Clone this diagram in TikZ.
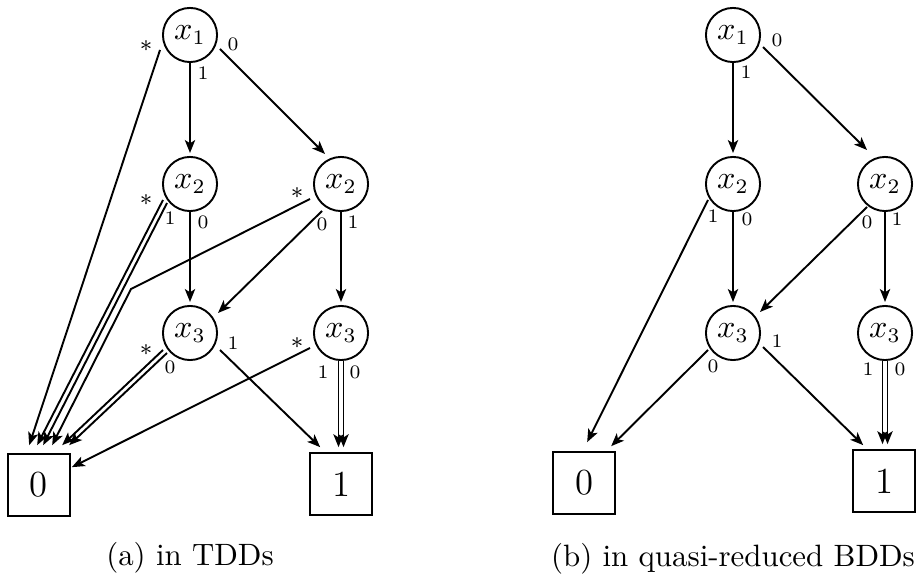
\documentclass[tikz,border=0pt]{standalone}
\usetikzlibrary{arrows.meta,calc}
\begin{document}
\begin{tikzpicture}[x=0.34pt,y=-0.34pt,
  var/.style={circle,draw,line width=0.65pt,minimum size=18.4pt,inner sep=0pt,
    font=\fontsize{10.5}{12}\selectfont},
  term/.style={rectangle,draw,line width=0.65pt,minimum size=21pt,inner sep=0pt,
    font=\fontsize{12.5}{14}\selectfont},
  lab/.style={font=\fontsize{6.5}{7}\selectfont,inner sep=0pt},
  star/.style={font=\fontsize{8}{8}\selectfont,inner sep=0pt},
  arc/.style={line width=0.65pt,-{Stealth[length=4.4pt,width=3.5pt,inset=1.1pt]}},
  captext/.style={font=\fontsize{10.5}{12.6}\selectfont,inner sep=0pt}]
\useasboundingbox (0,0) rectangle (916,578);

% ---------- (a) TDD ----------
\node[var] (x1a) at (190,35) {$x_1$};
\node[var] (x2La) at (190,184) {$x_2$};
\node[var] (x2Ra) at (341,184) {$x_2$};
\node[var] (x3La) at (190,333) {$x_3$};
\node[var] (x3Ra) at (341,333) {$x_3$};
\node[term] (b0a) at (39,485) {0};
\node[term] (b1a) at (341,484) {1};
\coordinate (benda) at (131,289);

\draw[arc] (x1a.south) -- ($(x2La)+(0,-31)$);
\draw[arc] ($(x1a)+(30,14)$) -- ($(x2Ra)+(-16,-30)$);
\draw[arc] ($(x1a)+(-30,15)$) -- ($(b0a.north west)+(22,-8)$);
\draw[arc] (x2La.south) -- ($(x3La)+(0,-31)$);
\draw[arc] ($(x2La)+(-27,16)$) -- ($(b0a.north west)+(30,-8)$);
\draw[arc] ($(x2La)+(-23,19)$) -- ($(b0a.north west)+(36,-8)$);
\draw[arc] ($(x2Ra)+(-31,15)$) -- (benda) -- ($(b0a.north west)+(45,-8)$);
\draw[arc] ($(x2Ra)+(-19,27)$) -- ($(x3La)+(28,-20)$);
\draw[arc] (x2Ra.south) -- ($(x3Ra)+(0,-31)$);
\draw[arc] ($(x3La)+(-27,17)$) -- ($(b0a.north west)+(55,-8)$);
\draw[arc] ($(x3La)+(-23,20)$) -- ($(b0a.north west)+(62,-8)$);
\draw[arc] ($(x3La)+(30,17)$) -- ($(b1a.north west)+(11,-5)$);
\draw[arc] ($(x3Ra)+(-31,15)$) -- ($(b0a.north east)+(1,14)$);
\draw[arc] ($(x3Ra.south)+(-2.5,0)$) -- ($(b1a.north)+(-2.5,-5)$);
\draw[arc] ($(x3Ra.south)+(2.5,0)$) -- ($(b1a.north)+(2.5,-5)$);

\node[star] at ($(x1a)+(-44,11)$) {$\ast$};
\node[lab] at ($(x1a)+(43,9)$) {0};
\node[lab] at ($(x1a)+(13,38)$) {1};
\node[star] at ($(x2La)+(-44,16)$) {$\ast$};
\node[lab] at ($(x2La)+(-20,34)$) {1};
\node[lab] at ($(x2La)+(13,38)$) {0};
\node[star] at ($(x2Ra)+(-44,9)$) {$\ast$};
\node[lab] at ($(x2Ra)+(-19,40)$) {0};
\node[lab] at ($(x2Ra)+(12,38)$) {1};
\node[star] at ($(x3La)+(-44,17)$) {$\ast$};
\node[lab] at ($(x3La)+(-20,34)$) {0};
\node[lab] at ($(x3La)+(43,10)$) {1};
\node[star] at ($(x3Ra)+(-44,10)$) {$\ast$};
\node[lab] at ($(x3Ra)+(-18,39)$) {1};
\node[lab] at ($(x3Ra)+(14,39)$) {0};

\node[captext] (capa) at (190,558) {(a) in TDDs};

% ---------- (b) quasi-reduced BDD ----------
\node[var] (x1b) at (733,35) {$x_1$};
\node[var] (x2Lb) at (733,184) {$x_2$};
\node[var] (x2Rb) at (885,184) {$x_2$};
\node[var] (x3Lb) at (733,333) {$x_3$};
\node[var] (x3Rb) at (885,333) {$x_3$};
\node[term] (b0b) at (584,483) {0};
\node[term] (b1b) at (884,481) {1};

\draw[arc] (x1b.south) -- ($(x2Lb)+(0,-31)$);
\draw[arc] ($(x1b)+(30,12)$) -- ($(x2Rb)+(-18,-34)$);
\draw[arc] ($(x2Lb)+(-25,16)$) -- ($(b0b.north west)+(35,-9)$);
\draw[arc] (x2Lb.south) -- ($(x3Lb)+(0,-31)$);
\draw[arc] ($(x2Rb)+(-18,23)$) -- ($(x3Lb)+(27,-21)$);
\draw[arc] (x2Rb.south) -- ($(x3Rb)+(0,-31)$);
\draw[arc] ($(x3Lb)+(-25,17)$) -- ($(b0b.north west)+(59,-5)$);
\draw[arc] ($(x3Lb)+(30,14)$) -- ($(b1b.north west)+(11,-4)$);
\draw[arc] ($(x3Rb.south)+(-2.5,0)$) -- ($(b1b.north)+(-1.5,-5)$);
\draw[arc] ($(x3Rb.south)+(2.5,0)$) -- ($(b1b.north)+(3.5,-5)$);

\node[lab] at ($(x1b)+(44,5)$) {0};
\node[lab] at ($(x1b)+(13,37)$) {1};
\node[lab] at ($(x2Lb)+(-20,32)$) {1};
\node[lab] at ($(x2Lb)+(14,35)$) {0};
\node[lab] at ($(x2Rb)+(-18,38)$) {0};
\node[lab] at ($(x2Rb)+(12,35)$) {1};
\node[lab] at ($(x3Lb)+(-20,33)$) {0};
\node[lab] at ($(x3Lb)+(44,8)$) {1};
\node[lab] at ($(x3Rb)+(-17,36)$) {1};
\node[lab] at ($(x3Rb)+(15,36)$) {0};

\node[captext] (capb) at (733,559) {(b) in quasi-reduced BDDs};
\end{tikzpicture}
\end{document}
